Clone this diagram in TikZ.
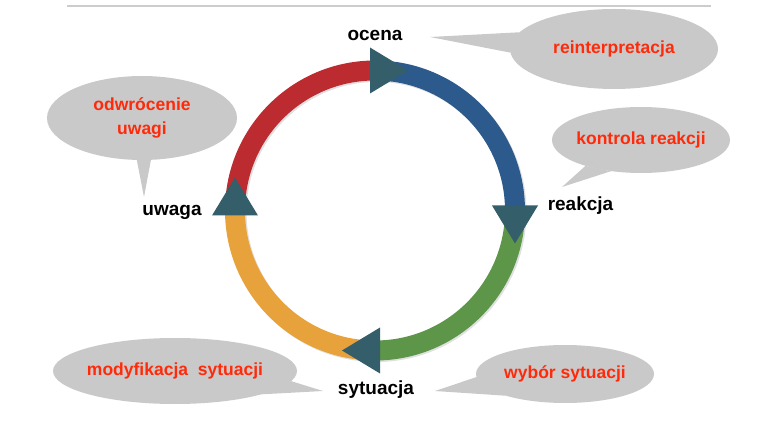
\documentclass[tikz,border=0pt]{standalone}
\usepackage{fontspec}
\setmainfont{Liberation Sans}
\usepackage{xcolor}
\usepackage{tikz}
\usetikzlibrary{shapes.geometric, calc, positioning}
\definecolor{ringred}{HTML}{BC2B30}
\definecolor{ringblue}{HTML}{2D5A8C}
\definecolor{ringgreen}{HTML}{5E9649}
\definecolor{ringorange}{HTML}{E8A23C}
\definecolor{headteal}{HTML}{335E6A}
\definecolor{bubblegray}{HTML}{C9C9C9}
\definecolor{talkred}{HTML}{FF2A0A}
\definecolor{rulegray}{HTML}{CCCCCC}
\tikzset{
        stage/.style={font=\bfseries\fontsize{19}{22}\selectfont, text=black, inner sep=0pt},
        bubble/.style={ellipse, fill=bubblegray, inner sep=0pt},
        talk/.style={font=\bfseries\fontsize{17.5}{24}\selectfont, text=talkred, align=center, inner sep=0pt},
        ringarc/.style={line width=20pt},
        tail/.style={fill=bubblegray},
        headfill/.style={fill=headteal},
    }
\newcommand{\cyclehead}[2]{%
    \begin{scope}[shift={(#1)}, rotate=#2]
        \fill[headfill] (-5,23) -- (33,0) -- (-5,-23) -- cycle;
    \end{scope}}

\begin{document}
\begin{tikzpicture}[x=1pt, y=1pt]
        \useasboundingbox (0,0) rectangle (759,420);

        % Top rule
        \draw[line width=2pt, rulegray] (67,413.5) -- (711,413.5);

        % Ring points
        \coordinate (C) at (375,209.5);
        \coordinate (pOcena) at ($(C)+(90:140)$);
        \coordinate (pReakcja) at ($(C)+(0:140)$);
        \coordinate (pSytuacja) at ($(C)+(270:140)$);
        \coordinate (pUwaga) at ($(C)+(180:140)$);

        % Ring
        \draw[ringarc, black, opacity=0.12] ($(C)+(1.5,-1.5)$) circle[radius=140];
        \draw[ringarc, ringred] (pUwaga) arc[start angle=180, end angle=90, radius=140];
        \draw[ringarc, ringblue] (pOcena) arc[start angle=90, end angle=0, radius=140];
        \draw[ringarc, ringgreen] (pReakcja) arc[start angle=0, end angle=-90, radius=140];
        \draw[ringarc, ringorange] (pSytuacja) arc[start angle=270, end angle=180, radius=140];

        % Heads
        \cyclehead{pOcena}{0}
        \cyclehead{pReakcja}{-90}
        \cyclehead{pSytuacja}{180}
        \cyclehead{pUwaga}{90}

        % Stages
        \node[stage] (ocena) at (375,385) {ocena};
        \node[stage] (reakcja) at (580.5,214.5) {reakcja};
        \node[stage] (sytuacja) at (376,30.5) {sytuacja};
        \node[stage] (uwaga) at (172,208) {uwaga};

        % Bubbles
        \node[bubble, minimum width=208, minimum height=80, label={[talk]center:reinterpretacja}] (bReinterp) at (614,371) {};
        \node[bubble, minimum width=178, minimum height=66, label={[talk]center:kontrola reakcji}] (bKontrola) at (641,280) {};
        \node[bubble, minimum width=190, minimum height=84, label={[talk]center:{odwrócenie\\uwagi}}] (bOdwrocenie) at (142,302) {};
        \node[bubble, minimum width=244, minimum height=66, label={[talk]center:modyfikacja~~sytuacji}] (bModyf) at (175,49) {};
        \node[bubble, minimum width=178, minimum height=58, label={[talk]center:wybór sytuacji}] (bWybor) at (565,46) {};

        % Tails
        \coordinate (tReinterp) at (430,383);
        \coordinate (tKontrola) at (562,233);
        \coordinate (tOdwrocenie) at (144,223);
        \coordinate (tModyf) at (323,29);
        \coordinate (tWybor) at (435,29);
        \fill[tail] (bReinterp.170) -- (tReinterp) -- (bReinterp.182) -- cycle;
        \fill[tail] (bKontrola.205) -- (tKontrola) -- (bKontrola.226) -- cycle;
        \fill[tail] (bOdwrocenie.263) -- (tOdwrocenie) -- (bOdwrocenie.282) -- cycle;
        \fill[tail] (bModyf.355) -- (tModyf) -- (bModyf.345) -- cycle;
        \fill[tail] (bWybor.182) -- (tWybor) -- (bWybor.200) -- cycle;
    \end{tikzpicture}
\end{document}
